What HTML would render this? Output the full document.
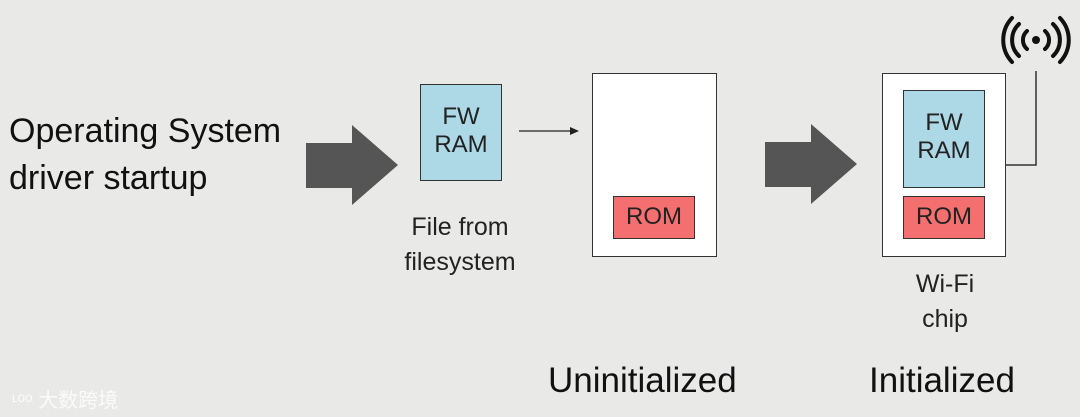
<!DOCTYPE html>
<html><head><style>
body{margin:0;width:1080px;height:417px;background:#e9e9e8;position:relative;overflow:hidden;font-family:"Liberation Sans","Noto Sans CJK SC",sans-serif;color:#111}
.a{position:absolute}
.box{position:absolute;background:#fff;border:1.5px solid #333;box-sizing:border-box}
.fw{position:absolute;background:#add8e6;border:1.5px solid #333;box-sizing:border-box;text-align:center;font-size:24px;line-height:28px;color:#222}
.rom{position:absolute;background:#f47070;border:1.5px solid #333;box-sizing:border-box;text-align:center;font-size:24px;color:#222}
.t{position:absolute;text-align:center;font-size:25px;line-height:35px;color:#222}
</style></head><body>
<div class="a" style="left:9px;top:108px;font-size:34px;line-height:47px;color:#111">Operating System<br>driver startup</div>
<svg class="a" style="left:0;top:0" width="1080" height="417">
<polygon points="306,143 352,143 352,125 398,165 352,205 352,188 306,188" fill="#555"/>
<polygon points="765,142 811,142 811,124 857,164 811,204 811,187 765,187" fill="#555"/>
<line x1="519" y1="131" x2="572" y2="131" stroke="#222" stroke-width="1.3"/>
<polygon points="579,131 570,127 570,135" fill="#222"/>
<polyline points="1005,165 1036,165 1036,71" fill="none" stroke="#333" stroke-width="1.5"/>
<circle cx="1036" cy="40" r="4" fill="#111"/>
<g fill="none" stroke="#111" stroke-width="4" stroke-linecap="round">
<path d="M1027,31 A12,12 0 0 0 1027,49"/><path d="M1045,31 A12,12 0 0 1 1045,49"/>
<path d="M1019,24 A22,22 0 0 0 1019,56"/><path d="M1053,24 A22,22 0 0 1 1053,56"/>
<path d="M1012,18 A32,32 0 0 0 1012,62"/><path d="M1060,18 A32,32 0 0 1 1060,62"/>
</g>
</svg>
<div class="fw" style="left:420px;top:84px;width:82px;height:97px;padding-top:18px">FW<br>RAM</div>
<div class="t" style="left:380px;top:210px;width:160px">File from<br>filesystem</div>
<div class="box" style="left:592px;top:73px;width:125px;height:184px"></div>
<div class="rom" style="left:613px;top:196px;width:82px;height:43px;line-height:40px">ROM</div>
<div class="box" style="left:882px;top:73px;width:124px;height:184px"></div>
<div class="fw" style="left:903px;top:90px;width:82px;height:98px;padding-top:18px">FW<br>RAM</div>
<div class="rom" style="left:903px;top:196px;width:82px;height:43px;line-height:40px">ROM</div>
<div class="t" style="left:885px;top:267px;width:120px">Wi-Fi<br>chip</div>
<div class="a" style="left:548px;top:361px;font-size:35px;color:#111">Uninitialized</div>
<div class="a" style="left:869px;top:361px;font-size:35px;color:#111">Initialized</div>
<div class="a" style="left:12px;top:384px;font-size:20px;color:#fff;opacity:.85">ᶫᵒᵒ 大数跨境</div>
</body></html>
